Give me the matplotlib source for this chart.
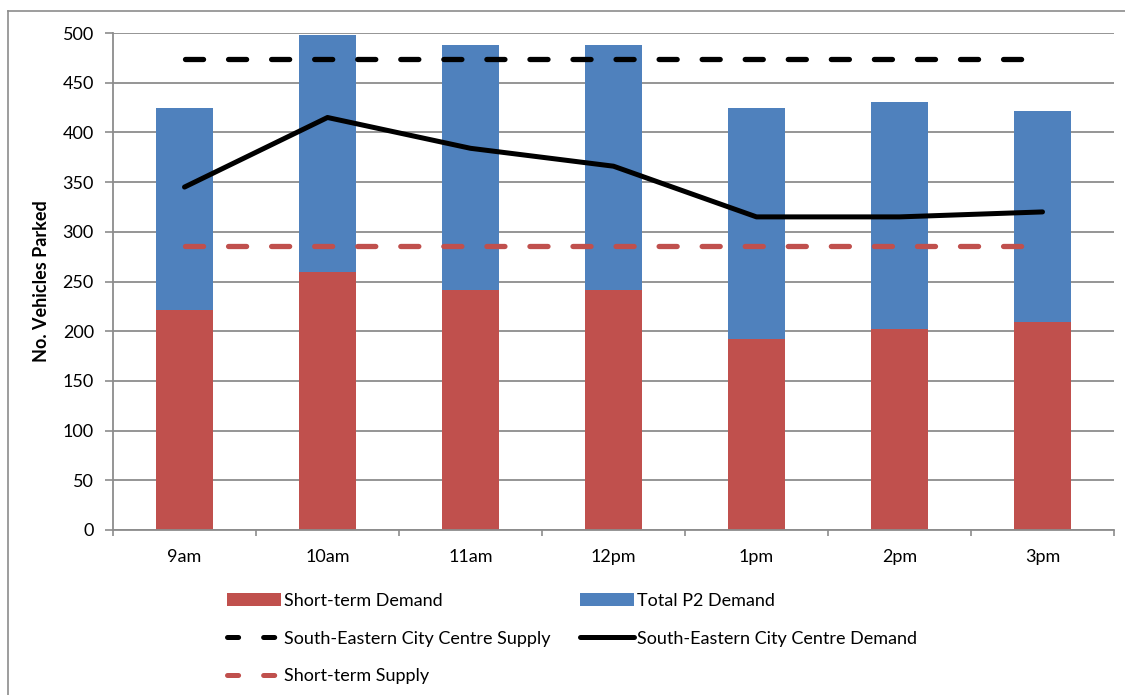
import matplotlib
matplotlib.use("Agg")
import matplotlib.pyplot as plt
from matplotlib.lines import Line2D
import numpy as np

# data
times = ["9am", "10am", "11am", "12pm", "1pm", "2pm", "3pm"]
short_term_demand = [221, 260, 241, 241, 192, 202, 209]
total_p2_demand = [425, 498, 488, 488, 425, 431, 422]
se_demand = [345, 415, 384, 366, 315, 315, 320]
se_supply = 474
short_term_supply = 286

red = "#C0504D"
blue = "#4F81BD"
grid_grey = "#8C8C8C"

plt.rcParams["font.family"] = ["Lato", "DejaVu Sans"]
plt.rcParams["lines.scale_dashes"] = False

fig = plt.figure(figsize=(11.25, 6.95), dpi=100)
ax = fig.add_axes([113 / 1125, 1 - 530 / 695, (1114 - 113) / 1125, (530 - 33) / 695])

x = np.arange(len(times))
remainder = np.array(total_p2_demand) - np.array(short_term_demand)

b1 = ax.bar(x, short_term_demand, width=0.4, color=red, zorder=2)
b2 = ax.bar(x, remainder, width=0.4, bottom=short_term_demand, color=blue, zorder=2)

dash = (0, (13, 18))
ax.plot(x, [se_supply] * len(x), color="black", lw=3.8,
        linestyle=dash, dash_capstyle="round", zorder=3)
l_dem, = ax.plot(x, se_demand, color="black", lw=3.6,
                 solid_capstyle="round", zorder=3)
ax.plot(x, [short_term_supply] * len(x), color=red, lw=3.8,
        linestyle=dash, dash_capstyle="round", zorder=3)

ax.set_xlim(-0.5, len(x) - 0.5)
ax.set_ylim(0, 500)
ax.set_yticks(np.arange(0, 501, 50))
ax.yaxis.grid(True, color=grid_grey, lw=1.3, zorder=0)
ax.set_axisbelow(True)

ax.set_xticks(x)
ax.set_xticklabels(times)
ax.set_xticks(np.arange(-0.5, len(x), 1), minor=True)
ax.tick_params(axis="x", which="major", length=0, pad=14, labelsize=13)
ax.tick_params(axis="x", which="minor", length=4.5, width=1.2, color=grid_grey)
ax.tick_params(axis="y", length=5.8, width=1.2, color=grid_grey, pad=8, labelsize=13)

for s in ["top", "right"]:
    ax.spines[s].set_visible(False)
for s in ["left", "bottom"]:
    ax.spines[s].set_color(grid_grey)
    ax.spines[s].set_linewidth(1.3)

ax.set_ylabel("No. Vehicles Parked", fontsize=13, fontweight="bold", labelpad=9)

labels = ["Short-term Demand", "South-Eastern City Centre Supply", "Short-term Supply",
          "Total P2 Demand", "South-Eastern City Centre Demand"]
leg_sup = Line2D([], [], color="black", lw=3.6, linestyle=(0, (8, 18)), dash_capstyle="round")
leg_st = Line2D([], [], color=red, lw=3.6, linestyle=(0, (8, 18)), dash_capstyle="round")
handles = [b1, leg_sup, leg_st, b2, l_dem]
fig.legend(handles, labels, ncol=2, frameon=False, fontsize=13,
           loc="upper left", bbox_to_anchor=(227 / 1125, 1 - 593 / 695),
           handlelength=3.0, handletextpad=0.15, columnspacing=1.65,
           labelspacing=1.2, borderaxespad=0, borderpad=0)

# outer chart frame (left and top edges visible)
fig.add_artist(Line2D([8 / 1125, 8 / 1125], [0, 1 - 11 / 695], color=grid_grey, lw=1.2))
fig.add_artist(Line2D([8 / 1125, 1], [1 - 11 / 695, 1 - 11 / 695], color=grid_grey, lw=1.2))

fig.savefig("out.png", dpi=100)
